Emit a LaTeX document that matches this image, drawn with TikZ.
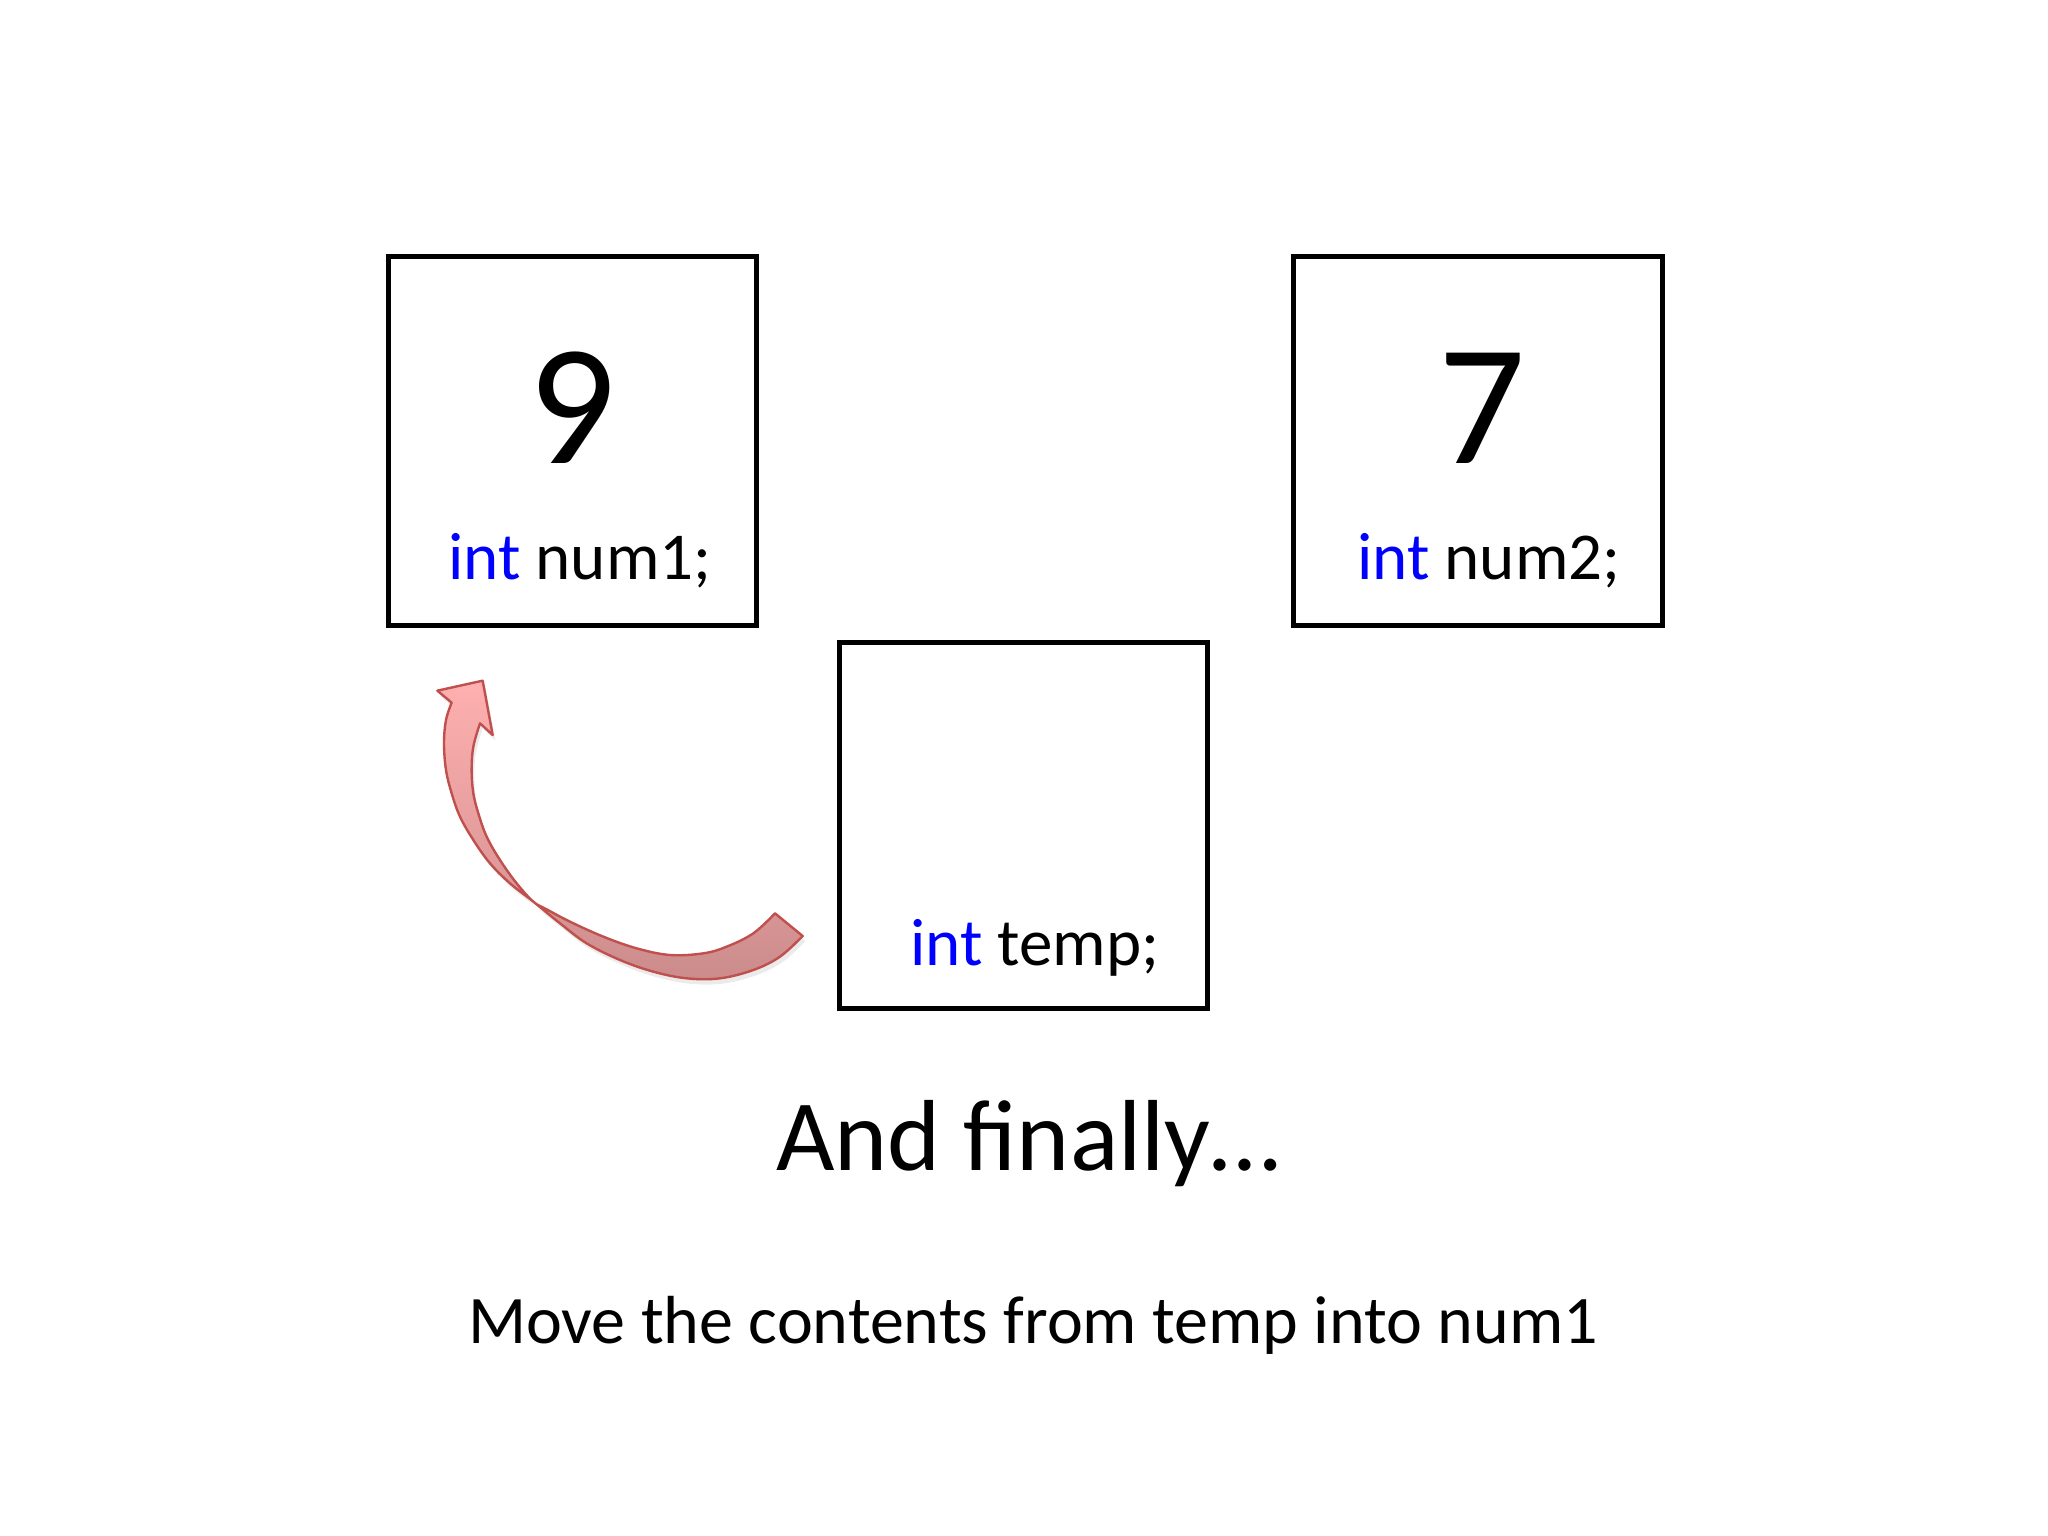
\documentclass[tikz,border=0pt]{standalone}
\usepackage{fontspec}
\setmainfont{Carlito}
\definecolor{kw}{HTML}{0000FF}
\definecolor{arrowline}{HTML}{C0504D}
\definecolor{arrowtop}{HTML}{FFB0B0}
\definecolor{arrowbot}{HTML}{CC8C8C}
\tikzset{
  varbox/.style={draw=black, line width=5pt, fill=white},
  bignum/.style={anchor=base, inner sep=0pt, font=\fontsize{172}{200}\selectfont},
  decl/.style={anchor=base west, inner sep=0pt, font=\fontsize{67}{80}\selectfont},
  title/.style={anchor=base west, inner sep=0pt, font=\fontsize{101}{120}\selectfont},
  caption/.style={anchor=base west, inner sep=0pt, font=\fontsize{68}{82}\selectfont},
  curvedarrow/.style={draw=arrowline, line width=2.4pt, line join=round, top color=arrowtop, bottom color=arrowbot},
  arrowshadow/.style={fill=black, opacity=0.08}
}
\newcommand\myarrowpath{(95,128)
  -- plot[smooth, tension=0.6] coordinates {(95,128) (78,180) (72,250) (78,330) (95,400) (120,470) (160,540) (210,610) (270,670) (340,725) (420,790) (500,850) (600,900) (700,935) (800,955) (900,955) (1000,930) (1080,890) (1148,828)}
  -- (1065,760)
  -- plot[smooth, tension=0.6] coordinates {(1065,760) (1000,820) (920,860) (850,880) (750,885) (650,865) (550,830) (450,785) (380,748) (340,725) (290,670) (240,600) (200,530) (175,460) (160,400) (155,330) (160,260) (180,190)}
  -- (218,225) -- (188,62) -- (52,92) -- cycle}
\begin{document}
\begin{tikzpicture}[x=1pt, y=-1pt]
\useasboundingbox (0,0) rectangle (2048,1536);
\fill[white] (0,0) rectangle (2048,1536);
% boxes
\draw[varbox] (388,256) rectangle (756,625);
\draw[varbox] (1293,256) rectangle (1662,625);
\draw[varbox] (839,642) rectangle (1207,1008);
\node[bignum] (v1) at (572,463) {9};
\node[bignum] (v2) at (1482,463) {7};
\node[decl] (d1) at (448,579) {\textcolor{kw}{int} num1;};
\node[decl] (d2) at (1357,579) {\textcolor{kw}{int} num2;};
\node[decl] (d3) at (910,965) {\textcolor{kw}{int} temp;};
% curved arrow (coordinates in 1/3 px units)
\begin{scope}[shift={(420,660)}, scale=1/3]
\path[arrowshadow, shift={(8,16)}] \myarrowpath;
\path[curvedarrow] \myarrowpath;
\end{scope}
% texts
\node[title] (t1) at (776,1170) {And finally…};
\node[caption] (t2) at (468,1343) {Move the contents from temp into num1};
\end{tikzpicture}
\end{document}
